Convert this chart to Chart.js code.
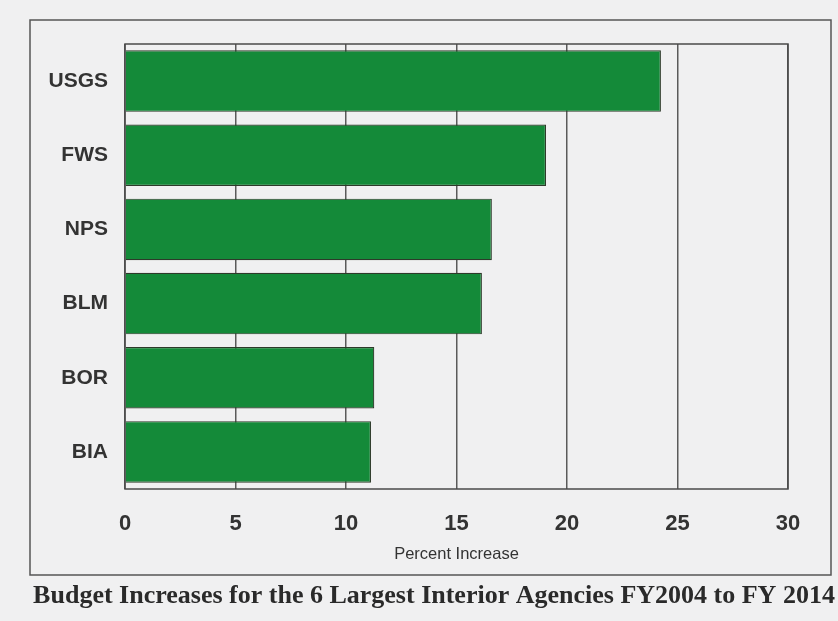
<!DOCTYPE html>
<html>
<head>
<meta charset="utf-8">
<script src="https://cdn.jsdelivr.net/npm/chart.js@4"></script>
<style>
  html, body { margin: 0; padding: 0; background: #f0f0f1; }
  #wrap { width: 838px; height: 621px; position: relative; }
</style>
</head>
<body>
<div id="wrap"><canvas id="chart" width="838" height="621"></canvas></div>
<script>
// agencies, top to bottom
const agencies = ['USGS', 'FWS', 'NPS', 'BLM', 'BOR', 'BIA'];
// percent increase FY2004 -> FY2014
const percentIncrease = [24.25, 19.05, 16.6, 16.15, 11.28, 11.13];
const xTicks = [0, 5, 10, 15, 20, 25, 30];

const chartTitle = 'Budget Increases for the 6 Largest Interior Agencies FY2004 to FY 2014';
const xAxisTitle = 'Percent Increase';

// outer frame, box round the plot area, and the caption under the frame
const frames = {
    id: 'frames',
    beforeDraw(chart) {
        const ctx = chart.ctx;
        ctx.save();
        ctx.fillStyle = '#f0f0f1';
        ctx.fillRect(0, 0, chart.width, chart.height);
        ctx.restore();
    },
    afterDraw(chart) {
        const ctx = chart.ctx;
        const a = chart.chartArea;
        ctx.save();
        ctx.strokeStyle = '#4a4a4a';
        ctx.lineWidth = 1.5;
        ctx.strokeRect(a.left, a.top, a.right - a.left, a.bottom - a.top);
        ctx.strokeStyle = '#555';
        ctx.strokeRect(30, 20, 801, 555);

        ctx.fillStyle = '#2a2a2a';
        ctx.font = 'bold 26px "Liberation Serif"';
        ctx.textAlign = 'center';
        ctx.textBaseline = 'middle';
        ctx.fillText(chartTitle, 434, 596);
        ctx.restore();
    }
};

const ctx = document.getElementById('chart').getContext('2d');
new Chart(ctx, {
    type: 'bar',
    data: {
        labels: agencies,
        datasets: [{
            data: percentIncrease,
            backgroundColor: '#148a39',
            borderColor: '#2d3a2a',
            borderWidth: 1.2,
            barPercentage: 0.83,
            categoryPercentage: 1
        }]
    },
    options: {
        indexAxis: 'y',
        responsive: false,
        animation: false,
        layout: {
            padding: { left: 0, top: 44, right: 50, bottom: 46 }
        },
        plugins: {
            legend: { display: false },
            tooltip: { enabled: false },
            title: { display: false }
        },
        scales: {
            x: {
                min: 0,
                max: 30,
                afterFit(scale) { scale.height = 86; },
                afterBuildTicks(scale) {
                    scale.ticks = xTicks.map(v => ({ value: v }));
                },
                ticks: {
                    color: '#333',
                    padding: 22,
                    font: { family: 'Liberation Sans', size: 22, weight: 'bold' }
                },
                grid: {
                    color: '#5a5a5a',
                    lineWidth: 1.5,
                    drawTicks: false
                },
                border: { display: false },
                title: {
                    display: true,
                    text: xAxisTitle,
                    color: '#333',
                    font: { family: 'Liberation Sans', size: 16.5 },
                    padding: { top: 0, bottom: 11 }
                }
            },
            y: {
                afterFit(scale) { scale.width = 125; },
                ticks: {
                    color: '#333',
                    padding: 17,
                    font: { family: 'Liberation Sans', size: 21, weight: 'bold' }
                },
                grid: { display: false, drawTicks: false },
                border: { display: false }
            }
        }
    },
    plugins: [frames]
});
</script>
</body>
</html>
